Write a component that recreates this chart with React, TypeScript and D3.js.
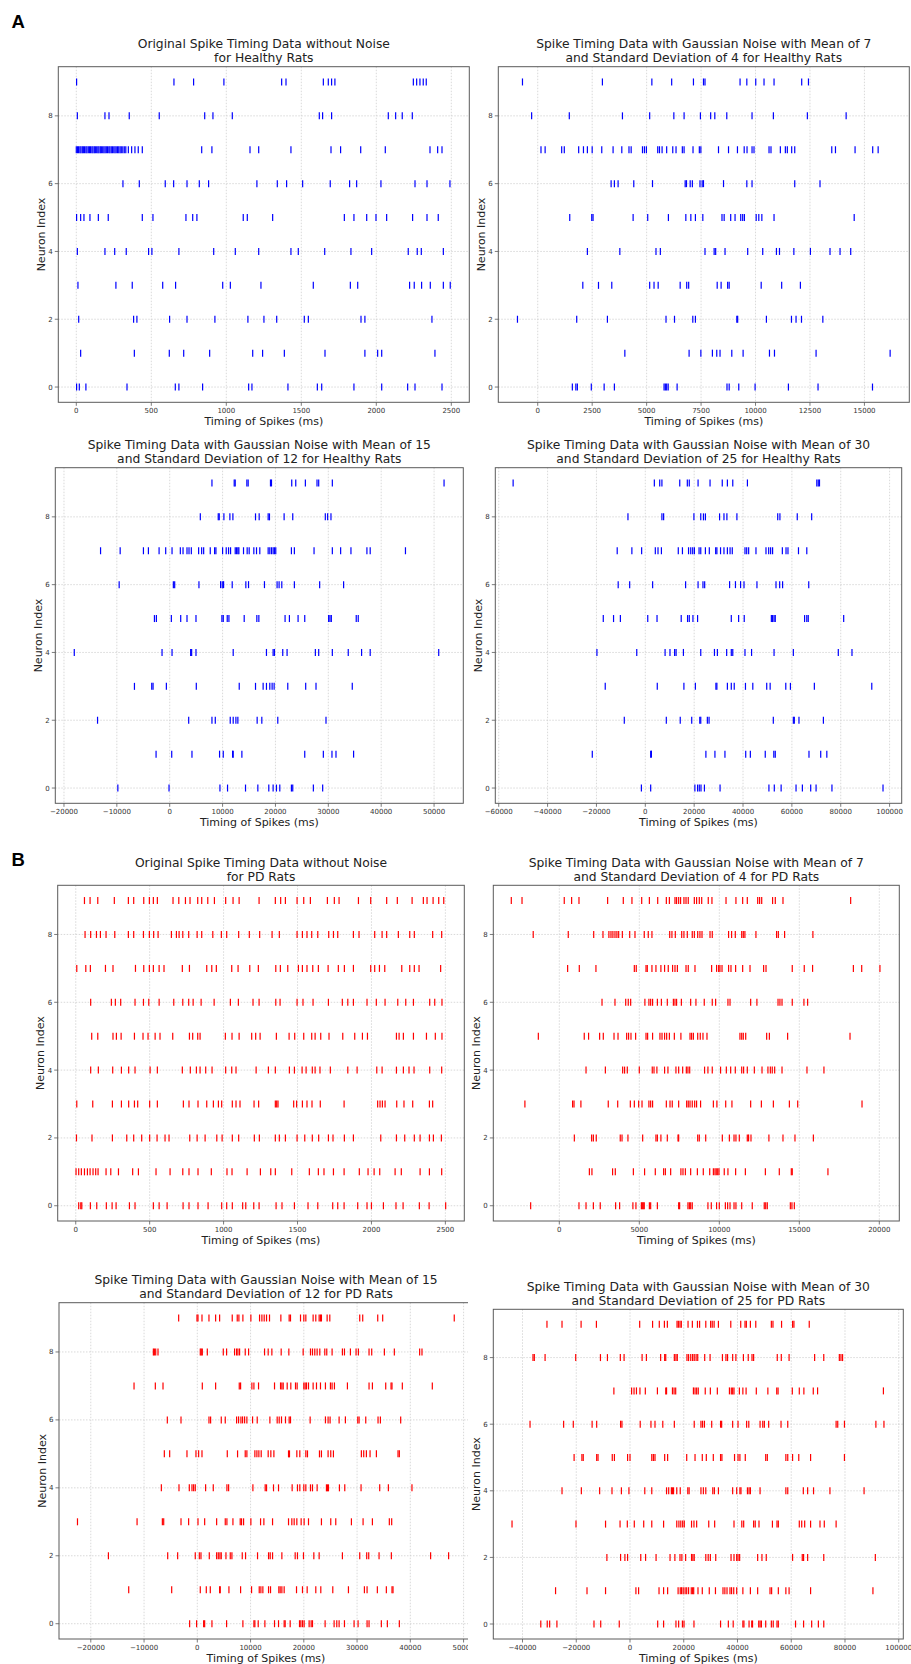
import * as d3 from 'd3';

// neuron rows 0..9, spike times in ms
const healthyOriginal: number[][] = [
  [2, 20, 64, 338, 660, 684, 842, 1149, 1171, 1411, 1607, 1636, 1851, 2036, 2209, 2258, 2438],
  [29, 387, 620, 716, 889, 1176, 1242, 1387, 1658, 1924, 2009, 2036, 2391],
  [16, 382, 404, 622, 738, 924, 1144, 1251, 1336, 1520, 1547, 1898, 1924, 2371],
  [11, 264, 373, 576, 662, 976, 1027, 1231, 1580, 1827, 1876, 2222, 2253, 2302, 2360, 2447, 2493],
  [7, 191, 256, 333, 482, 504, 684, 916, 1060, 1216, 1431, 1480, 1656, 1831, 1969, 2213, 2273, 2300, 2447],
  [2, 29, 51, 91, 147, 213, 440, 511, 731, 776, 804, 1113, 1140, 1309, 1787, 1851, 1936, 1998, 2069, 2242, 2338, 2413],
  [311, 420, 593, 649, 738, 820, 882, 1204, 1340, 1402, 1509, 1693, 1822, 1869, 2031, 2258, 2338, 2491],
  [0, 8, 15, 24, 31, 40, 47, 55, 64, 71, 80, 88, 95, 104, 111, 120, 127, 136, 144, 151, 160, 167, 176, 184, 192, 200,
    208, 217, 224, 233, 241, 250, 258, 266, 275, 283, 292, 300, 310, 320, 330, 347, 369, 391, 413, 440, 836, 904, 1158,
    1216, 1431, 1698, 1762, 1896, 2060, 2358, 2409, 2438],
  [7, 191, 218, 353, 553, 856, 911, 1040, 1620, 1642, 1702, 2080, 2129, 2173, 2240],
  [2, 651, 782, 984, 1369, 1398, 1647, 1680, 1702, 1724, 2247, 2269, 2291, 2313, 2333],
];

const healthyNoise7: number[][] = [
  [1590, 1750, 1820, 2460, 3050, 3520, 5800, 5860, 5920, 5990, 6400, 8690, 8790, 9230, 9980, 11510, 12870, 15370],
  [4000, 6950, 7490, 8020, 8220, 8370, 8910, 9430, 10640, 10870, 12780, 16180],
  [-930, 1790, 3200, 5890, 6280, 7120, 7240, 9140, 9180, 10500, 11650, 11860, 12110, 13090],
  [2070, 2790, 3400, 5140, 5340, 5530, 6540, 6840, 6930, 8240, 8420, 8720, 8790, 10260, 11200, 12060],
  [2280, 3770, 5430, 5630, 7680, 8100, 8170, 8600, 9640, 10330, 10960, 11100, 11760, 12520, 13420, 13880, 14370],
  [1470, 2480, 2540, 4380, 5050, 6000, 6800, 7030, 7240, 7580, 8460, 8560, 8860, 9060, 9320, 9410, 9490, 10030, 10150,
    10290, 10850, 14530],
  [3370, 3520, 3690, 4410, 5270, 6770, 6830, 7000, 7100, 7450, 7550, 7610, 8530, 9600, 9840, 11800, 12960],
  [150, 340, 1100, 1220, 1880, 2100, 2280, 2500, 2940, 3460, 3860, 4190, 4290, 4810, 4900, 4990, 5510, 5590, 5710,
    5920, 6200, 6350, 6640, 6720, 7130, 7420, 7490, 8300, 8760, 9170, 9480, 9610, 9840, 9930, 10620, 10710, 11140,
    11370, 11460, 11660, 11800, 13500, 13670, 14570, 15380, 15630],
  [-280, 1450, 3890, 5140, 6250, 6720, 7470, 7940, 8130, 8680, 9840, 10820, 12380, 14160],
  [-700, 2970, 5240, 6150, 7150, 7610, 7680, 9290, 9600, 10010, 10390, 10850, 12120, 12430],
];

const healthyNoise15: number[][] = [
  [-9810, -130, 9500, 10940, 14340, 16670, 18740, 19560, 20190, 20820, 23020, 23270, 27170, 28930],
  [-2580, 380, 4210, 9430, 10130, 11890, 12010, 13650, 25540, 29060, 30690, 31450, 34780],
  [-13650, 3590, 7990, 8620, 11450, 12010, 12520, 12890, 16540, 17420, 20440, 29560],
  [-6670, -3400, -3150, -630, 5030, 13150, 16230, 17670, 18300, 18930, 19370, 19750, 22330, 25720, 27670, 34530],
  [-18050, -1450, 440, 3960, 4150, 4970, 12010, 18300, 19560, 19810, 21380, 22200, 27550, 28180, 30760, 33770, 36290,
    37920, 50880],
  [-2890, -2520, 310, 2080, 3270, 4970, 9870, 10130, 10880, 11200, 14090, 16480, 16860, 21820, 22640, 24280, 25540,
    30060, 30310, 30570, 35280, 35660],
  [-9560, 690, 940, 5530, 9620, 9940, 10190, 11820, 14400, 14910, 17920, 20310, 20690, 21200, 23580, 28360, 32890],
  [-13080, -9370, -4970, -4030, -2010, -760, 440, 2010, 2520, 3270, 3650, 4090, 5470, 6040, 6420, 7670, 8490, 8740,
    10000, 10690, 11130, 11510, 12390, 12640, 12890, 13080, 13960, 14650, 15030, 15910, 16420, 17040, 18620, 18930,
    19250, 19560, 19810, 20060, 23020, 23580, 27300, 30760, 32330, 34280, 37300, 37920, 44590],
  [5790, 9180, 9370, 10250, 11380, 11950, 16230, 16920, 18620, 18870, 21640, 23270, 29430, 29870, 30500],
  [7990, 12200, 12390, 14590, 14840, 19060, 19250, 23080, 23840, 25660, 27860, 28180, 30760, 51890],
];

const healthyNoise30: number[][] = [
  [-1600, 2200, 20300, 21400, 22100, 22800, 24200, 30600, 50600, 52800, 55600, 61700, 64300, 67700, 69900, 76400, 97300],
  [-21700, 2200, 2500, 24800, 28500, 32600, 41100, 43000, 49100, 52600, 53200, 67000, 71800, 74300],
  [-8600, 8600, 14300, 19000, 22300, 22700, 25400, 26100, 52400, 60600, 61000, 62900, 72900],
  [-16400, 4900, 15800, 20500, 28900, 29300, 33600, 35200, 36400, 41000, 44000, 49700, 51100, 57500, 59400, 69200, 92700],
  [-19800, -3500, 8100, 10100, 12000, 12600, 15600, 22700, 28300, 29500, 33300, 35200, 35800, 40800, 43500, 52700,
    60600, 79000, 84600],
  [-17200, -13000, -10200, 1000, 4800, 14700, 17300, 18000, 19500, 21400, 35200, 38200, 40500, 51600, 52100, 52700,
    53200, 65200, 66100, 66700, 81200],
  [-11100, -6400, 3000, 16500, 21600, 23600, 24300, 34500, 36900, 39000, 40400, 45700, 53500, 55000, 56200, 66900],
  [-11500, -5500, -1500, 4100, 5200, 6600, 13500, 15200, 17700, 18600, 19400, 20100, 22000, 22700, 24600, 26200, 28800,
    29300, 30800, 32200, 33600, 34700, 35600, 40800, 41500, 42300, 45300, 49400, 50500, 51300, 52100, 56100, 57600,
    58400, 62700, 66100],
  [-7100, 6800, 7500, 19900, 22700, 23800, 24600, 30400, 32200, 33400, 37500, 54200, 55100, 62200, 68100],
  [-54100, 3700, 5900, 6800, 14100, 17200, 18000, 21600, 26500, 31500, 33600, 35800, 41800, 70200, 70800, 71300],
];

const pdOriginal: number[][] = [
  [20, 34, 41, 99, 142, 207, 246, 273, 363, 401, 525, 564, 618, 726, 766, 827, 895, 987, 1021, 1059, 1129, 1150, 1204,
    1240, 1355, 1395, 1479, 1571, 1637, 1738, 1772, 1815, 1907, 1970, 2000, 2081, 2166, 2214, 2324, 2390, 2502],
  [2, 20, 38, 59, 79, 97, 117, 135, 151, 205, 237, 289, 385, 424, 543, 638, 724, 766, 827, 917, 1023, 1057, 1159, 1249,
    1319, 1350, 1461, 1580, 1641, 1679, 1743, 1815, 1918, 1977, 2018, 2056, 2160, 2202, 2329, 2392, 2475],
  [5, 110, 248, 345, 392, 446, 500, 550, 604, 631, 771, 821, 875, 954, 990, 1059, 1102, 1208, 1242, 1350, 1377, 1418,
    1497, 1549, 1600, 1643, 1709, 1740, 1817, 1878, 2063, 2169, 2225, 2290, 2329, 2392, 2419, 2473],
  [7, 115, 248, 309, 358, 397, 419, 500, 552, 728, 766, 827, 886, 931, 965, 987, 1059, 1084, 1111, 1206, 1237, 1350,
    1359, 1368, 1474, 1494, 1533, 1564, 1598, 1654, 1815, 2042, 2058, 2074, 2092, 2171, 2220, 2279, 2392, 2414],
  [101, 153, 250, 309, 358, 401, 503, 552, 721, 775, 816, 841, 879, 922, 1014, 1055, 1084, 1220, 1303, 1350, 1445, 1479,
    1531, 1558, 1600, 1619, 1652, 1722, 1840, 1903, 2036, 2072, 2169, 2216, 2254, 2288, 2394, 2475],
  [108, 149, 252, 275, 307, 397, 455, 489, 537, 570, 656, 769, 791, 825, 841, 1012, 1057, 1105, 1190, 1217, 1247, 1357,
    1443, 1481, 1542, 1596, 1619, 1657, 1713, 1806, 1887, 1939, 1973, 2169, 2187, 2216, 2284, 2372, 2432, 2477],
  [101, 241, 268, 304, 401, 458, 494, 564, 663, 724, 764, 794, 848, 936, 1046, 1100, 1199, 1240, 1353, 1382, 1497, 1537,
    1605, 1709, 1803, 1840, 1878, 1970, 2033, 2092, 2178, 2232, 2284, 2394, 2428, 2477],
  [7, 68, 99, 201, 252, 404, 460, 498, 525, 564, 597, 721, 769, 886, 920, 951, 1055, 1098, 1177, 1235, 1353, 1384, 1434,
    1506, 1533, 1564, 1603, 1641, 1707, 1776, 1817, 1878, 1995, 2022, 2054, 2090, 2205, 2259, 2290, 2322, 2468],
  [63, 101, 140, 167, 205, 264, 356, 392, 458, 498, 527, 557, 647, 681, 699, 724, 764, 821, 852, 927, 985, 1021, 1102,
    1174, 1244, 1328, 1377, 1497, 1533, 1564, 1596, 1637, 1711, 1743, 1772, 1878, 1916, 2022, 2072, 2103, 2182, 2259,
    2290, 2414, 2475],
  [59, 97, 149, 261, 356, 392, 460, 498, 525, 552, 658, 697, 742, 773, 825, 852, 893, 938, 1014, 1064, 1105, 1240, 1350,
    1386, 1418, 1497, 1542, 1587, 1702, 1749, 1781, 1912, 1995, 2103, 2175, 2275, 2351, 2376, 2417, 2455, 2489],
];

const pdNoise7: number[][] = [
  [-1790, 1230, 1670, 2130, 2560, 3520, 3770, 4600, 4790, 5130, 5190, 5250, 5310, 5630, 5710, 6130, 7460, 7520, 8040,
    8130, 8210, 8310, 9290, 9500, 9830, 10000, 10380, 10520, 10670, 10920, 11040, 11400, 12060, 12810, 12900, 13000,
    14440, 14540, 14690],
  [1880, 2040, 3330, 3500, 4630, 5330, 6000, 6520, 6630, 6960, 7600, 7730, 7880, 8210, 8630, 9000, 9400, 9630, 9730,
    9810, 9900, 9980, 10310, 10540, 11020, 11630, 12880, 13750, 14500, 14560, 16790],
  [940, 2020, 2130, 2310, 3810, 3920, 4290, 5210, 6040, 6130, 6350, 6750, 7420, 7460, 8650, 8750, 9150, 10190, 10630,
    10920, 11040, 11250, 11750, 11830, 11980, 13100, 13980, 14730, 15880],
  [-2150, 830, 920, 1350, 3060, 3650, 4440, 4690, 4960, 5170, 5600, 5710, 5830, 6690, 6920, 7060, 7460, 7960, 8060,
    8170, 8310, 8460, 8580, 8830, 9630, 9850, 10400, 10790, 11960, 12630, 13380, 14380, 14900, 18920],
  [1670, 2880, 3960, 4080, 4250, 5000, 5810, 5920, 6100, 6580, 6790, 7290, 7460, 7710, 7940, 8040, 8150, 9080, 9290,
    9560, 10080, 10440, 10710, 11000, 11400, 11520, 11750, 12190, 12670, 13040, 13190, 13310, 13460, 13920, 15480, 16540],
  [-1310, 1560, 1830, 2520, 2750, 3420, 3670, 4210, 4330, 4480, 4770, 5420, 5520, 5830, 6290, 6420, 6580, 6710, 6880,
    7190, 7600, 8170, 8270, 8380, 8650, 8810, 8980, 9230, 11290, 11400, 11500, 11650, 12960, 13130, 14270, 18170],
  [2670, 3480, 4150, 4310, 4460, 5350, 5600, 5710, 5830, 6130, 6380, 6750, 7130, 7230, 7330, 7630, 8210, 8540, 9060,
    9560, 9770, 10540, 10670, 11960, 12350, 13670, 13790, 13920, 14560, 15290, 15520],
  [520, 1250, 2290, 4690, 4810, 5420, 5500, 5790, 6040, 6350, 6580, 6810, 7080, 7230, 7380, 7920, 8060, 8480, 9520,
    9830, 9960, 10040, 10170, 10580, 10730, 11020, 11460, 11920, 12770, 12920, 14560, 15310, 15830, 18380, 18900, 20040],
  [-1630, 560, 2150, 2730, 3100, 3230, 3350, 3480, 3600, 3710, 3940, 4400, 4730, 5310, 5560, 5790, 6900, 7040, 7250,
    7650, 7790, 8000, 8310, 8440, 8650, 8790, 8920, 9420, 9560, 10580, 10770, 11000, 11400, 11500, 11600, 12290, 13580,
    13690, 14080, 15850],
  [-3000, -2330, 310, 770, 1230, 3020, 4000, 4540, 5150, 5630, 6150, 6690, 6880, 7230, 7330, 7460, 7580, 7790, 7920,
    8060, 8440, 8580, 8750, 8900, 9310, 9540, 10420, 11040, 11460, 11750, 12400, 12520, 12650, 13330, 13500, 13980, 18210],
];

const pdNoise15: number[][] = [
  [-1440, -130, 1190, 1380, 2750, 5500, 8560, 10630, 10810, 11440, 12690, 14500, 15250, 16310, 16500, 17440, 19190,
    19440, 19750, 20060, 21000, 21380, 21630, 24000, 25690, 26190, 26630, 27630, 29440, 30190, 31880, 32250, 34560,
    35690, 37940],
  [-12880, -4810, 560, 1690, 2440, 4190, 4310, 5940, 8130, 10190, 11630, 11940, 12310, 13380, 13750, 15310, 15560,
    15880, 16310, 18630, 19750, 20630, 22250, 23190, 25440, 28380, 31380, 31880, 33810, 35500, 36560, 36750],
  [-16690, -5560, -3690, -380, 380, 690, 2250, 3630, 3940, 4250, 4500, 5380, 6190, 6500, 8440, 9060, 11310, 13380,
    13690, 14130, 15880, 18380, 18810, 19940, 21880, 22880, 27250, 30500, 31810, 32190, 34130, 36440, 43810, 47190],
  [-22500, -11310, -6560, -6310, -3060, -1630, 130, 1380, 3630, 5250, 5560, 6690, 8060, 8310, 8690, 10060, 11880,
    12500, 14130, 17130, 17750, 18190, 18690, 19500, 20060, 20880, 23310, 25060, 26000, 28940, 31130, 32880, 36060, 36500],
  [-6750, -3440, -1500, -1000, -690, -380, 1560, 3000, 5560, 5880, 10440, 12750, 13000, 14310, 15250, 17810, 18810,
    19250, 20000, 20380, 21250, 21630, 22500, 24250, 24440, 24630, 26690, 27690, 30750, 34250, 35880, 40310],
  [-6190, -5190, -1940, -250, 250, 880, 5630, 7560, 9000, 9310, 10810, 11190, 11560, 12000, 13310, 13810, 14380, 17130,
    17310, 18690, 19250, 20380, 20690, 22940, 23310, 24560, 25060, 25560, 30810, 31250, 31750, 32440, 33630, 37690, 37940],
  [-5630, -3060, 2190, 2500, 4500, 5250, 7380, 7750, 8190, 8500, 8880, 9310, 10380, 11250, 13630, 15000, 15380, 15810,
    16560, 17250, 17500, 21190, 24060, 24560, 24940, 26630, 27810, 30130, 30380, 31630, 33940, 34380, 38190],
  [-11880, -7880, -6440, 940, 3440, 7880, 8130, 10250, 10630, 11500, 14500, 15630, 15880, 16130, 16880, 17560, 18440,
    18750, 20000, 20250, 20500, 20880, 21750, 22380, 23130, 24060, 25000, 25310, 25750, 28190, 32250, 32880, 35380,
    36380, 36560, 38500, 44130],
  [-8250, -8060, -7810, -7380, 560, 750, 940, 1880, 4880, 5500, 7000, 7380, 7630, 7940, 9000, 9630, 12630, 13310,
    14000, 15750, 17190, 19880, 21250, 21630, 22060, 22500, 23000, 23940, 24310, 25310, 27250, 27630, 28750, 29810,
    30250, 32250, 32750, 35130, 37000, 41750, 42190],
  [-3500, -60, 130, 880, 2190, 3440, 4190, 6560, 7500, 7810, 8560, 10060, 11690, 12130, 12560, 13000, 13560, 15690,
    17250, 17500, 19380, 20000, 20380, 21750, 22250, 22880, 23130, 23310, 24380, 24880, 30500, 31060, 33880, 34810, 48250],
];

const pdNoise30: number[][] = [
  [-33200, -30800, -29900, -27200, -13400, -10900, -4000, 10300, 12500, 17100, 18100, 19500, 20100, 23800, 33700,
    36600, 38400, 42000, 42400, 44300, 45300, 45600, 47900, 48400, 48900, 50500, 52600, 53300, 54700, 55200, 61600,
    64600, 67600, 70100, 72100],
  [-27700, -16000, -9100, 2200, 3200, 10800, 12500, 14000, 17900, 18700, 19200, 19800, 20500, 21100, 21800, 22800,
    23300, 23700, 25300, 26900, 29500, 31800, 34600, 35300, 36100, 37200, 37800, 38600, 39700, 42000, 44800, 47500,
    52100, 52700, 55200, 58000, 59200, 67200, 90400],
  [-8600, -3500, -1900, -900, 4000, 5800, 9700, 14900, 16700, 18600, 19300, 20700, 22900, 23400, 23900, 28200, 29100,
    29900, 31900, 37600, 38700, 39700, 40200, 40800, 47500, 49100, 50700, 60500, 64100, 64600, 66100, 72100, 91300],
  [-43900, -20100, -9100, -3700, -1000, 1600, 5100, 8100, 12500, 17400, 18200, 18900, 19600, 20200, 22900, 23800,
    24800, 29300, 31500, 38700, 41600, 42300, 46000, 46600, 48000, 53000, 54700, 55200, 63000, 63900, 65000, 67200,
    70700, 72300, 76700],
  [-25300, -18100, -11300, -6700, -3200, -400, 5500, 8100, 13600, 14400, 15400, 15800, 16200, 17400, 18700, 21500,
    22000, 26400, 27300, 28200, 30800, 31400, 32900, 38200, 39700, 40900, 41300, 43700, 44300, 44800, 48400, 58000,
    58700, 64500, 66100, 68300, 74400, 87100],
  [-20800, -17900, -17400, -12400, -11900, -6600, -5800, -900, 0, 8100, 8700, 9300, 12900, 14000, 21100, 24200, 26900,
    28400, 31000, 33700, 34200, 38900, 40200, 40900, 42900, 50500, 51100, 58000, 58700, 60500, 62800, 67200, 79800],
  [-37200, -24700, -21100, -14100, -12400, -3500, -3000, 3800, 7800, 9300, 12200, 16500, 23900, 26400, 27000, 27700,
    30400, 33700, 34100, 38200, 40200, 43400, 44200, 48400, 49400, 50000, 51600, 56200, 58700, 76700, 77300, 79800,
    91500, 94500],
  [-6000, 600, 1500, 2400, 3700, 5700, 10200, 13300, 13600, 15800, 16400, 17000, 23600, 24200, 24800, 25400, 28000,
    29900, 32500, 37000, 37700, 38200, 38700, 40700, 42000, 43200, 47000, 51300, 54600, 55100, 60400, 63000, 64700,
    68200, 69800, 94300],
  [-36100, -35600, -31600, -20200, -11000, -8400, -3600, -2200, 4500, 6100, 11400, 12900, 13300, 16500, 17100, 17600,
    21200, 21800, 22600, 23300, 23900, 24600, 25200, 27800, 29800, 34400, 35700, 36300, 38200, 39400, 42200, 44000,
    45400, 46000, 54800, 56300, 59200, 68700, 72100, 77900, 78500, 79100],
  [-30900, -25300, -18200, -12500, 3600, 8400, 10900, 12800, 13900, 17500, 18000, 18600, 19100, 21600, 23200, 25100,
    25900, 28200, 30000, 30600, 31300, 32900, 37500, 41200, 42800, 43300, 44800, 46800, 52600, 53200, 56400, 60500,
    61000, 66700],
];

const neuronTicks = [0, 2, 4, 6, 8];
const ticksOriginal = [0, 500, 1000, 1500, 2000, 2500];
const ticksNoise7H = [0, 2500, 5000, 7500, 10000, 12500, 15000];
const ticksNoise7P = [0, 5000, 10000, 15000, 20000];
const ticksNoise15 = [-20000, -10000, 0, 10000, 20000, 30000, 40000, 50000];
const ticksNoise30H = [-60000, -40000, -20000, 0, 20000, 40000, 60000, 80000, 100000];
const ticksNoise30P = [-40000, -20000, 0, 20000, 40000, 60000, 80000, 100000];

const titleOriginalH = ['Original Spike Timing Data without Noise', 'for Healthy Rats'];
const title7H = ['Spike Timing Data with Gaussian Noise with Mean of 7', 'and Standard Deviation of 4 for Healthy Rats'];
const title15H = ['Spike Timing Data with Gaussian Noise with Mean of 15', 'and Standard Deviation of 12 for Healthy Rats'];
const title30H = ['Spike Timing Data with Gaussian Noise with Mean of 30', 'and Standard Deviation of 25 for Healthy Rats'];
const titleOriginalP = ['Original Spike Timing Data without Noise', 'for PD Rats'];
const title7P = ['Spike Timing Data with Gaussian Noise with Mean of 7', 'and Standard Deviation of 4 for PD Rats'];
const title15P = ['Spike Timing Data with Gaussian Noise with Mean of 15', 'and Standard Deviation of 12 for PD Rats'];
const title30P = ['Spike Timing Data with Gaussian Noise with Mean of 30', 'and Standard Deviation of 25 for PD Rats'];

interface Box {
  left: number;
  right: number;
  top: number;
  bottom: number;
}

interface RasterProps {
  id: string;
  rows: number[][];
  color: string;
  title: string[];
  domain: [number, number];
  ticks: number[];
  box: Box;
  clipRight?: number;
}

const FONT = 'DejaVu Sans, sans-serif';
const fmt = (v: number) => String(v).replace('-', '\u2212');

const Raster: React.FC<RasterProps> = ({ id, rows, color, title, domain, ticks, box, clipRight }) => {
  const x = d3.scaleLinear().domain(domain).range([box.left, box.right]);
  const y = d3.scaleLinear().domain([-0.45, 9.45]).range([box.bottom, box.top]);
  const cx = (box.left + box.right) / 2;
  const cy = (box.top + box.bottom) / 2;
  const grid = '#cfcfcf';
  const axis = '#5a5a5a';

  return (
    <g clipPath={clipRight ? `url(#clip-${id})` : undefined}>
      {clipRight && (
        <defs>
          <clipPath id={`clip-${id}`}>
            <rect x={0} y={box.top - 40} width={clipRight} height={box.bottom - box.top + 80} />
          </clipPath>
        </defs>
      )}
      {/* grid */}
      {ticks.map((t) => (
        <line key={`gx${t}`} x1={x(t)} x2={x(t)} y1={box.top} y2={box.bottom}
          stroke={grid} strokeWidth={0.8} strokeDasharray="1.5 1.5" />
      ))}
      {neuronTicks.map((t) => (
        <line key={`gy${t}`} x1={box.left} x2={box.right} y1={y(t)} y2={y(t)}
          stroke={grid} strokeWidth={0.8} strokeDasharray="1.5 1.5" />
      ))}
      {/* spikes */}
      {rows.map((row, i) =>
        row.map((t, j) => (
          <line key={`s${i}-${j}`} x1={x(t)} x2={x(t)} y1={y(i) - 3.5} y2={y(i) + 3.5}
            stroke={color} strokeWidth={1.2} />
        ))
      )}
      {/* frame */}
      <rect x={box.left} y={box.top} width={box.right - box.left} height={box.bottom - box.top}
        fill="none" stroke={axis} strokeWidth={1} />
      {/* x ticks */}
      {ticks.map((t) => (
        <g key={`xt${t}`}>
          <line x1={x(t)} x2={x(t)} y1={box.bottom} y2={box.bottom + 3.5} stroke={axis} strokeWidth={0.8} />
          <text x={x(t)} y={box.bottom + 10.5} fontSize={7} fill="#333" textAnchor="middle" fontFamily={FONT}>
            {fmt(t)}
          </text>
        </g>
      ))}
      {/* y ticks */}
      {neuronTicks.map((t) => (
        <g key={`yt${t}`}>
          <line x1={box.left - 3.5} x2={box.left} y1={y(t)} y2={y(t)} stroke={axis} strokeWidth={0.8} />
          <text x={box.left - 5.5} y={y(t) + 2.5} fontSize={7} fill="#333" textAnchor="end" fontFamily={FONT}>
            {t}
          </text>
        </g>
      ))}
      {/* labels */}
      <text x={cx} y={box.bottom + 23} fontSize={11} fill="#222" textAnchor="middle" fontFamily={FONT}>
        Timing of Spikes (ms)
      </text>
      <text transform={`translate(${box.left - 13.5},${cy}) rotate(-90)`} fontSize={11} fill="#222"
        textAnchor="middle" fontFamily={FONT}>
        Neuron Index
      </text>
      <text x={cx} y={box.top - 18.5} fontSize={12.3} fill="#222" textAnchor="middle" fontFamily={FONT}>
        {title[0]}
      </text>
      <text x={cx} y={box.top - 4.5} fontSize={12.3} fill="#222" textAnchor="middle" fontFamily={FONT}>
        {title[1]}
      </text>
    </g>
  );
};

export default function App() {
  return (
    <svg width={911} height={1664} style={{ position: 'absolute', left: 0, top: 0, background: '#fff' }}>
      <rect width={911} height={1664} fill="#fff" />
      <text x={11.5} y={28} fontSize={18.5} fontWeight="bold" fontFamily="Liberation Sans, Arial, sans-serif">A</text>
      <text x={11.5} y={866} fontSize={18.5} fontWeight="bold" fontFamily="Liberation Sans, Arial, sans-serif">B</text>

      <Raster id="a1" rows={healthyOriginal} color="#0000ff" title={titleOriginalH} domain={[-120, 2620]}
        ticks={ticksOriginal} box={{ left: 58.3, right: 469.3, top: 66.7, bottom: 402.3 }} />
      <Raster id="a2" rows={healthyNoise7} color="#0000ff" title={title7H} domain={[-1810, 17060]}
        ticks={ticksNoise7H} box={{ left: 498.3, right: 909.3, top: 66.7, bottom: 402.3 }} />
      <Raster id="a3" rows={healthyNoise15} color="#0000ff" title={title15H} domain={[-21640, 55530]}
        ticks={ticksNoise15} box={{ left: 55.3, right: 463.3, top: 467.7, bottom: 803.3 }} />
      <Raster id="a4" rows={healthyNoise30} color="#0000ff" title={title30H} domain={[-61400, 104950]}
        ticks={ticksNoise30H} box={{ left: 495.3, right: 901.7, top: 467.7, bottom: 803.3 }} />

      <Raster id="b1" rows={pdOriginal} color="#ff0000" title={titleOriginalP} domain={[-122, 2628]}
        ticks={ticksOriginal} box={{ left: 57.7, right: 464.3, top: 885.3, bottom: 1221 }} />
      <Raster id="b2" rows={pdNoise7} color="#ff0000" title={title7P} domain={[-4125, 21250]}
        ticks={ticksNoise7P} box={{ left: 493.3, right: 899.3, top: 885.3, bottom: 1221 }} />
      <Raster id="b3" rows={pdNoise15} color="#ff0000" title={title15P} domain={[-25970, 51770]}
        ticks={ticksNoise15} box={{ left: 59, right: 473, top: 1302.7, bottom: 1639 }} clipRight={468} />
      <Raster id="b4" rows={pdNoise30} color="#ff0000" title={title30P} domain={[-50870, 101700]}
        ticks={ticksNoise30P} box={{ left: 493.3, right: 903.3, top: 1309.3, bottom: 1639 }} />
    </svg>
  );
}
